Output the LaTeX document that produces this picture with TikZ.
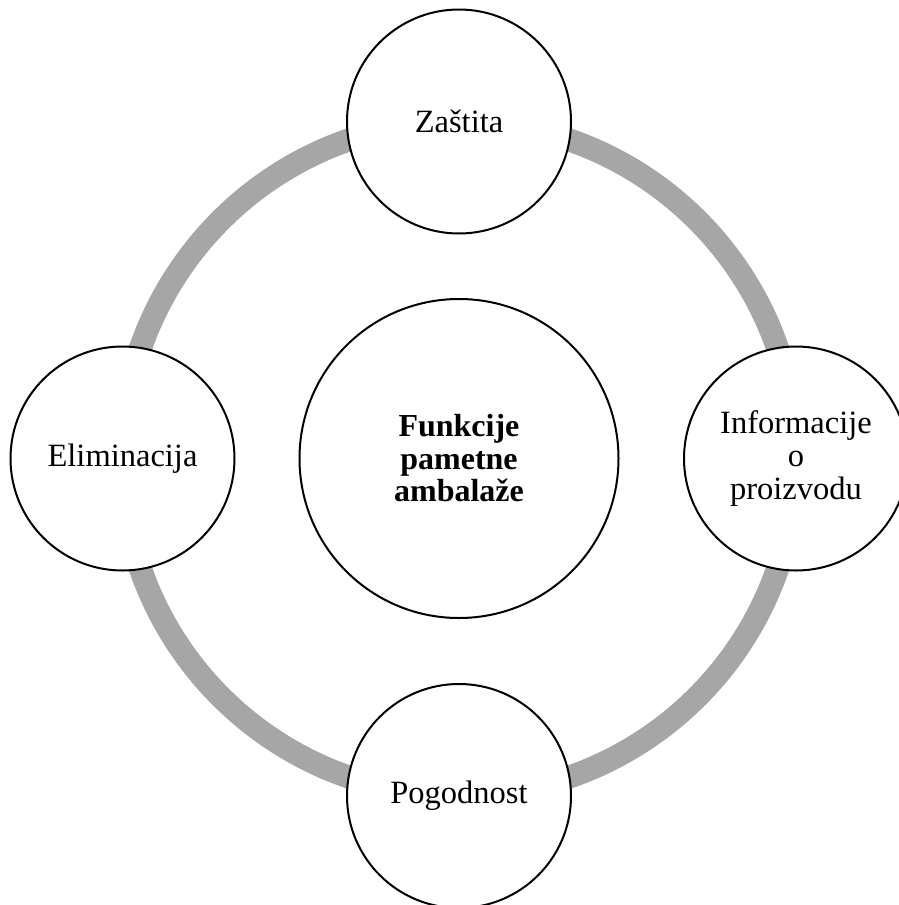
\documentclass[tikz,border=0pt]{standalone}
\usepackage{fontspec}
\setmainfont{Liberation Serif}
\definecolor{ringgray}{HTML}{A6A6A6}
\begin{document}
\begin{tikzpicture}[x=1pt,y=-1pt,
  bubble/.style={circle,draw=black,line width=2pt,fill=white,minimum size=224pt,inner sep=0pt,align=center,font=\fontsize{32.5}{33}\selectfont},
  hub/.style={circle,draw=black,line width=2pt,fill=white,minimum size=319pt,inner sep=0pt,align=center,font=\fontsize{32}{32.5}\selectfont\bfseries}]
\useasboundingbox (0,0) rectangle (899,905);
\coordinate (c) at (459,458.5);
\draw[ringgray,line width=23pt] (c) circle[radius=337pt];
\node[hub] (hub) at (c) {Funkcije\\pametne\\ambalaže};
\node[bubble] (top) at (459,121.5) {Zaštita};
\node[bubble] (right) at (796,458.5) {Informacije\\o\\proizvodu};
\node[bubble] (bottom) at (459,796) {Pogodnost};
\node[bubble] (left) at (122.5,458.5) {Eliminacija};
\end{tikzpicture}
\end{document}
